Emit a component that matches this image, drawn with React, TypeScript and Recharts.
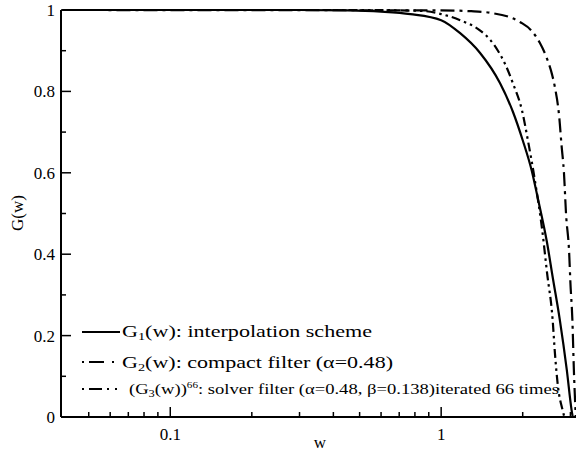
import { LineChart, Line, XAxis, YAxis } from 'recharts';

const g1W = [0.04, 0.3, 0.45, 0.6, 0.77, 1.0, 1.175, 1.39, 1.65, 1.84, 2.0, 2.16, 2.27, 2.46, 2.58, 2.74, 2.91, 3.03, 3.06];
const g1 = [1, 1, 0.999, 0.996, 0.99, 0.975, 0.943, 0.895, 0.82, 0.75, 0.68, 0.605, 0.54, 0.428, 0.344, 0.24, 0.115, 0.017, 0];

const g2W = [0.04, 1.0, 1.29, 1.52, 1.96, 2.15, 2.31, 2.46, 2.57, 2.63, 2.73, 2.78, 2.84, 2.89, 2.97, 3.0, 3.05, 3.09, 3.14];
const g2 = [1, 0.999, 0.997, 0.993, 0.97, 0.95, 0.92, 0.88, 0.84, 0.81, 0.735, 0.67, 0.6, 0.5, 0.4, 0.33, 0.24, 0.115, 0];

const g3W = [0.04, 0.5, 0.84, 1.0, 1.175, 1.39, 1.52, 1.62, 1.72, 1.84, 1.99, 2.09, 2.22, 2.36, 2.46, 2.58, 2.63, 2.7, 2.8, 2.85];
const g3 = [1, 1, 0.998, 0.99, 0.975, 0.95, 0.926, 0.9, 0.868, 0.82, 0.752, 0.68, 0.58, 0.46, 0.354, 0.238, 0.157, 0.074, 0.02, 0];

const xTicks = [0.05, 0.06, 0.07, 0.08, 0.09, 0.1, 0.2, 0.3, 0.4, 0.5, 0.6, 0.7, 0.8, 0.9, 1, 2, 3];
const xLabels = [0.1, 1];
const yTicks = [0, 0.1, 0.2, 0.3, 0.4, 0.5, 0.6, 0.7, 0.8, 0.9, 1];
const yLabels = [0, 0.2, 0.4, 0.6, 0.8, 1];

const FONT = "'Liberation Serif', 'Times New Roman', 'DejaVu Serif', serif";
const serif = { fontFamily: FONT };

const toData = (ws: number[], gs: number[]) => ws.map((w, i) => ({ w, g: gs[i] }));
const isYMajor = (v: number) => yLabels.some((l) => Math.abs(l - v) < 1e-9);

const BottomTick = ({ x, y, payload }: any) => {
  const major = xLabels.includes(payload.value);
  return (
    <g>
      <line x1={x} x2={x} y1={y} y2={y - (major ? 10 : 5)} stroke="#000" strokeWidth={1.5} />
      {major && (
        <text x={x} y={y + 23} textAnchor="middle" fontSize={17} style={serif} fill="#000">
          {payload.value}
        </text>
      )}
    </g>
  );
};

const TopTick = ({ x, y, payload }: any) => {
  const major = xLabels.includes(payload.value);
  return <line x1={x} x2={x} y1={y} y2={y + (major ? 10 : 5)} stroke="#000" strokeWidth={1.5} />;
};

const LeftTick = ({ x, y, payload }: any) => {
  const major = isYMajor(payload.value);
  return (
    <g>
      <line x1={x} x2={x + (major ? 10 : 5)} y1={y} y2={y} stroke="#000" strokeWidth={1.5} />
      {major && (
        <text x={x - 6} y={y + 6} textAnchor="end" fontSize={17} style={serif} fill="#000">
          {payload.value}
        </text>
      )}
    </g>
  );
};

const RightTick = ({ x, y, payload }: any) => {
  const major = isYMajor(payload.value);
  return <line x1={x} x2={x - (major ? 10 : 5)} y1={y} y2={y} stroke="#000" strokeWidth={1.5} />;
};

const sub = { fontSize: 11 };

function Overlay() {
  return (
    <svg width={576} height={453} style={{ position: 'absolute', left: 0, top: 0, pointerEvents: 'none' }}>
      <g style={serif} fill="#000">
        <text x={320} y={448} textAnchor="middle" fontSize={17}>w</text>
        <text x={23} y={213} textAnchor="middle" fontSize={17} transform="rotate(-90 23 213)">G(w)</text>
        <line x1={82} x2={120} y1={332} y2={332} stroke="#000" strokeWidth={2} />
        <text x={122} y={337} fontSize={17} textLength={250} lengthAdjust="spacingAndGlyphs">
          G<tspan {...sub} dy={3}>1</tspan><tspan dy={-3}>(w): interpolation scheme</tspan>
        </text>
        <line x1={82} x2={120} y1={362} y2={362} stroke="#000" strokeWidth={2} strokeDasharray="2 5 15 8 2 20" />
        <text x={122} y={368} fontSize={17} textLength={271} lengthAdjust="spacingAndGlyphs">
          G<tspan {...sub} dy={3}>2</tspan><tspan dy={-3}>(w): compact filter (α=0.48)</tspan>
        </text>
        <line x1={82} x2={122} y1={389} y2={389} stroke="#000" strokeWidth={2} strokeDasharray="2 5 13 5 2 6 2 20" />
        <text x={129} y={394} fontSize={15} textLength={430} lengthAdjust="spacingAndGlyphs">
          (G<tspan fontSize={10} dy={3}>3</tspan><tspan dy={-3}>(w))</tspan>
          <tspan fontSize={9} dy={-6}>66</tspan>
          <tspan dy={6}>: solver filter (α=0.48, β=0.138)iterated 66 times</tspan>
        </text>
      </g>
    </svg>
  );
}

export default function App() {
  return (
    <div style={{ position: 'relative', width: 576, height: 453, overflow: 'hidden' }}>
      <style>{'body{margin:0}'}</style>
      <LineChart width={610} height={453} margin={{ top: 10, right: 32, bottom: 0, left: 0 }}>
        <XAxis
          dataKey="w"
          type="number"
          scale="log"
          domain={[0.0395, 3.2]}
          allowDataOverflow
          ticks={xTicks}
          interval={0}
          tick={<BottomTick />}
          tickLine={false}
          tickSize={0}
          tickMargin={0}
          height={36}
          axisLine={{ stroke: '#000', strokeWidth: 2 }}
        />
        <XAxis
          xAxisId="top"
          orientation="top"
          dataKey="w"
          type="number"
          scale="log"
          domain={[0.0395, 3.2]}
          allowDataOverflow
          ticks={xTicks}
          interval={0}
          tick={<TopTick />}
          tickLine={false}
          tickSize={0}
          tickMargin={0}
          height={0}
          axisLine={{ stroke: '#000', strokeWidth: 2.5 }}
        />
        <YAxis
          type="number"
          domain={[0, 1]}
          ticks={yTicks}
          interval={0}
          tick={<LeftTick />}
          tickLine={false}
          tickSize={0}
          tickMargin={0}
          width={61}
          axisLine={{ stroke: '#000', strokeWidth: 2 }}
        />
        <YAxis
          yAxisId="right"
          orientation="right"
          type="number"
          domain={[0, 1]}
          ticks={yTicks}
          interval={0}
          tick={<RightTick />}
          tickLine={false}
          tickSize={0}
          tickMargin={0}
          width={0}
          axisLine={{ stroke: '#000', strokeWidth: 2 }}
        />
        <Line data={toData(g1W, g1)} dataKey="g" type="monotone" dot={false} stroke="#000" strokeWidth={2.2} isAnimationActive={false} />
        <Line data={toData(g2W, g2)} dataKey="g" type="monotone" dot={false} stroke="#000" strokeWidth={2.2} strokeDasharray="14 5 3 5" isAnimationActive={false} />
        <Line data={toData(g3W, g3)} dataKey="g" type="monotone" dot={false} stroke="#000" strokeWidth={2.2} strokeDasharray="9 4 2.5 4 2.5 4" isAnimationActive={false} />
      </LineChart>
      <Overlay />
    </div>
  );
}
